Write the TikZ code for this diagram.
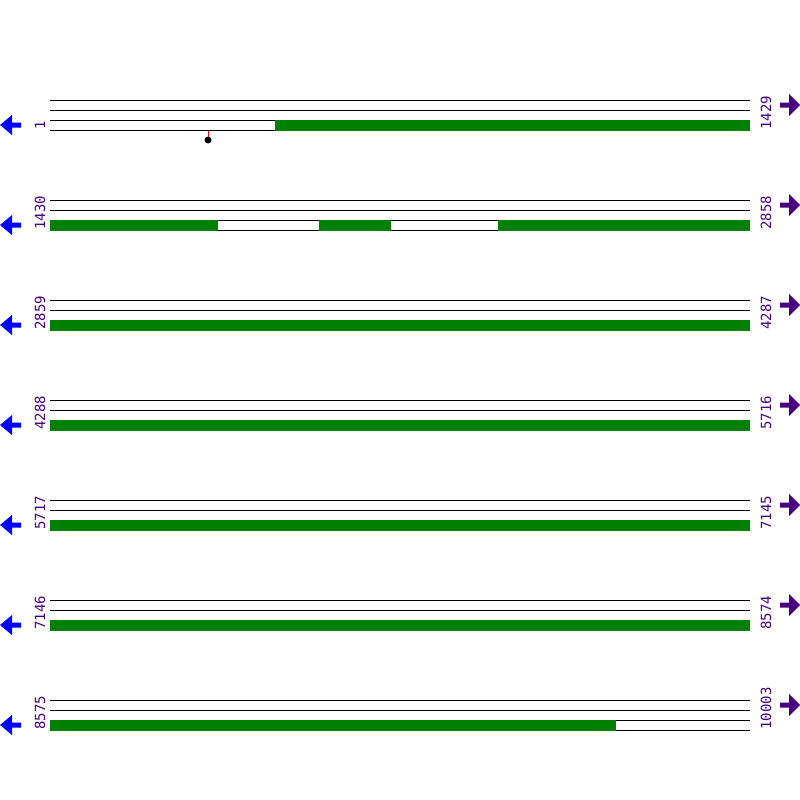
\documentclass[tikz,border=0pt]{standalone}
\usepackage{fontspec}
\newfontfamily\etichfont{DejaVu Sans Mono}
\definecolor{verde}{RGB}{0,128,0}
\definecolor{viola}{RGB}{75,0,130}
\definecolor{blu}{RGB}{0,0,255}
\begin{document}
\begin{tikzpicture}[
			x=1pt, y=-1pt, line width=1pt,
			riga/.style={black, line width=1pt},
			tratto/.style={fill=verde, draw=none},
			etich/.style={rotate=90, anchor=base west, inner sep=0pt,
				text=viola, font=\etichfont\fontsize{14}{14}\selectfont},
			frecciaS/.style={fill=blu, draw=none},
			frecciaD/.style={fill=viola, draw=none}]
			
			\useasboundingbox (0,0) rectangle (800,800);
			\def\xA{50}
			\def\xB{750}
			
			%% righe: quattro linee, etichette e frecce
			\foreach \i/\ini/\fin in {0/1/1429, 1/1430/2858, 2/2859/4287,
				3/4288/5716, 4/5717/7145, 5/7146/8574, 6/8575/10003} {
				\pgfmathsetmacro{\yR}{100+100*\i}
				\foreach \k in {0,10,20,30}
					\draw[riga] (\xA,\yR+\k) -- (\xB,\yR+\k);
				\node[etich] (ini\i) at (45,\yR+30) {\ini};
				\node[etich] (fin\i) at (771,\yR+30) {\fin};
				%% freccia sx (blu) e dx (viola)
				\fill[frecciaS] (0,\yR+25) -- (12,\yR+15) -- (12,\yR+22.5)
					-- (21,\yR+22.5) -- (21,\yR+27.5) -- (12,\yR+27.5)
					-- (12,\yR+35) -- cycle;
				\fill[frecciaD] (800,\yR+5) -- (789,\yR-6) -- (789,\yR+2.5)
					-- (780,\yR+2.5) -- (780,\yR+7.5) -- (789,\yR+7.5)
					-- (789,\yR+16) -- cycle;
			}
			
			%% tratti verdi: riga/inizio/fine
			\foreach \i/\a/\b in {0/275/750, 1/50/218, 1/319/391, 1/498/750,
				2/50/750, 3/50/750, 4/50/750, 5/50/750, 6/50/616} {
				\pgfmathsetmacro{\yR}{100+100*\i}
				\fill[tratto] (\a,\yR+19.5) rectangle (\b,\yR+30.5);
			}
			
			%% segno sulla prima riga
			\coordinate (segno) at (208,140);
			\draw[red, line width=1pt] (208,130.5) -- (segno);
			\fill[black] (segno) circle (3.5);
			
		\end{tikzpicture}
\end{document}
